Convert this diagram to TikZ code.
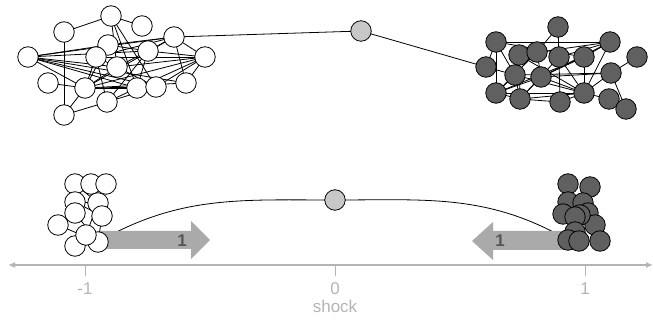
\documentclass[tikz,border=0pt]{standalone}
\usepackage{fontspec}
\newfontfamily\axisfont{Liberation Sans}
\usetikzlibrary{arrows.meta,backgrounds}
\definecolor{darkfill}{HTML}{606060}
\definecolor{midfill}{HTML}{C8C8C8}
\definecolor{axisgray}{HTML}{B4B4B4}
\definecolor{shockgray}{HTML}{AAAAAA}
\definecolor{numgray}{HTML}{555555}
\begin{document}
\begin{tikzpicture}[x=1pt,y=-1pt,
    agent/.style={circle,draw=black,line width=0.8pt,inner sep=0pt,minimum size=20.5pt},
    white/.style={agent,fill=white},
    dark/.style={agent,fill=darkfill},
    mid/.style={agent,fill=midfill},
    link/.style={draw=black,line width=0.8pt},
    num/.style={font=\axisfont\bfseries\fontsize{17}{17}\selectfont,text=numgray},
    tick/.style={font=\axisfont\fontsize{17}{17}\selectfont,text=axisgray}]
  \useasboundingbox (0,0) rectangle (653,320);
  % top: two clusters joined through one grey node
  \foreach \i/\p in {1/{111,16},2/{142,26},3/{64,32},4/{174,37},5/{108,45},
      6/{148,51},7/{28,57},8/{96,57},9/{205,57},10/{117,67},11/{48,83},
      12/{85,88},13/{137,88},14/{156,87},15/{186,83},16/{107,102},17/{64,115}}
    \node[white] (a\i) at (\p) {};
  \foreach \i/\p in {1/{558,27},2/{496,42},3/{610,42},4/{637,57},5/{519,55},
      6/{537,52},7/{559,57},8/{584,57},9/{486,67},10/{515,75},11/{541,77},
      12/{611,73},13/{496,93},14/{520,99},15/{560,102},16/{584,93},
      17/{609,99},18/{626,109}}
    \node[dark] (b\i) at (\p) {};
  \node[mid] (g1) at (361,31) {};
  \begin{pgfonlayer}{background}
  \foreach \u/\v in {a1/a3,a1/a2,a1/a10,a1/a13,a1/a14,a3/a17,a7/a5,a7/a6,a7/a4,
      a7/a10,a7/a13,a7/a14,a7/a15,a7/a12,a9/a4,a9/a6,a9/a8,a9/a10,a9/a12,a9/a13,
      a9/a15,a9/a14,a4/a5,a4/a6,a4/a8,a4/a12,a4/a15,a5/a6,a5/a12,a8/a12,a8/a16,
      a8/a10,a6/a10,a6/a13,a6/a16,a10/a12,a10/a14,a11/a12,a12/a13,a12/a14,a12/a15,
      a13/a16,a17/a12,a17/a16,a16/a14,a4/g1,g1/b9}
    \path[link] (\u.center) -- (\v.center);
  \foreach \u/\v in {b1/b6,b1/b7,b2/b3,b2/b9,b2/b10,b2/b13,b2/b8,b3/b5,b3/b7,b3/b8,
      b3/b16,b3/b11,b4/b12,b12/b18,b17/b18,b9/b10,b10/b13,b10/b14,b10/b16,b11/b13,
      b11/b14,b11/b16,b11/b8,b6/b11,b6/b13,b7/b15,b7/b16,b7/b14,b8/b16,b8/b13,
      b12/b16,b12/b11,b13/b14,b13/b16,b14/b15,b14/b16,b15/b16,b16/b17,b5/b14,
      b5/b16,b5/b10,b10/b12}
    \path[link] (\u.center) -- (\v.center);
  \end{pgfonlayer}
  % bottom: shock arrows and axis
  \fill[shockgray] (100,231) -- (191,231) -- (191,221) -- (210,240) -- (191,259)
    -- (191,249) -- (100,249) -- cycle;
  \fill[shockgray] (565,231) -- (493,231) -- (493,222) -- (472,241) -- (493,260)
    -- (493,250) -- (565,250) -- cycle;
  \node[num] (n1) at (182,241) {1};
  \node[num] (n2) at (500,241) {1};
  \draw[axisgray,line width=1.6pt,{Latex[length=7pt,width=6pt]}-{Latex[length=7pt,width=6pt]}]
    (8,265) -- (653,265);
  \foreach \x/\t in {85/-1,335/0,585/1} {
    \draw[axisgray,line width=1pt] (\x,265) -- (\x,276);
    \node[tick] at (\x,289) {\t};
  }
  \node[tick] (s) at (335,306) {shock};
  \foreach \i/\p in {1/{75,184},2/{91,184},3/{106,184},4/{75,202},5/{98,203},
      6/{75,213},7/{102,216},8/{58,225},10/{75,246},11/{98,242},9/{86,235}}
    \node[white] (c\i) at (\p) {};
  \foreach \i/\p in {1/{568,184},2/{590,187},3/{568,202},4/{583,203},5/{588,213},
      9/{595,225},6/{580,215},7/{563,214},8/{575,217},10/{575,232},
      11/{568,240},12/{579,241},13/{600,241}}
    \node[dark] (d\i) at (\p) {};
  \node[mid] (g2) at (335,200) {};
  \begin{pgfonlayer}{background}
  \draw[line width=0.8pt] (c11.center) to[out=30,in=180] (g2.center)
    to[out=0,in=150] (d11.center);
  \foreach \u/\v in {c1/c5,c4/c5,c5/c9,c6/c11,c8/c11,c9/c11,c7/c11,c4/c7,
      d3/d6,d4/d8,d7/d10,d8/d12,d6/d13}
    \path[link] (\u.center) -- (\v.center);
  \end{pgfonlayer}
\end{tikzpicture}
\end{document}
